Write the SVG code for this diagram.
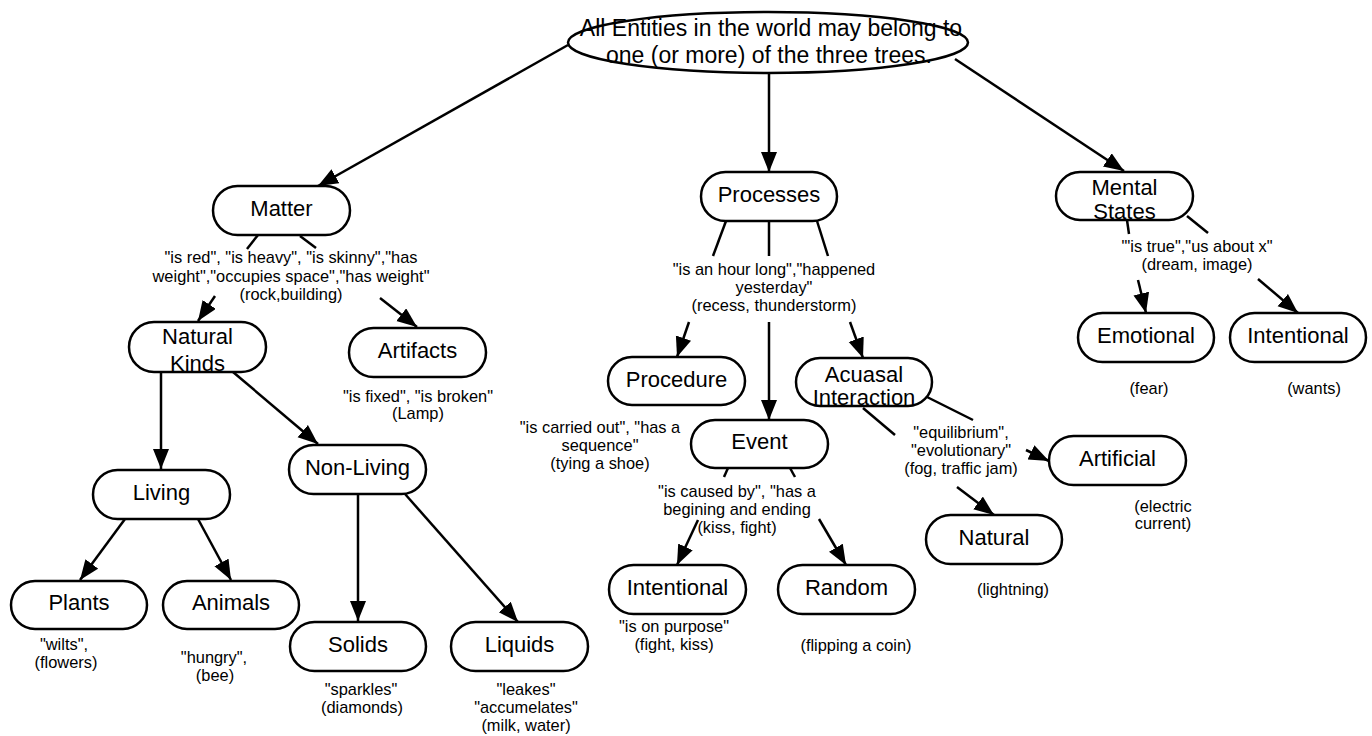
<svg xmlns="http://www.w3.org/2000/svg" width="1372" height="736" viewBox="0 0 1372 736">
<style>
.n{fill:#fff;stroke:#000;stroke-width:2.5}
.t{font-family:"Liberation Sans",Arial,sans-serif;font-size:22px;fill:#000;text-anchor:middle}
.r{font-size:23px}
.l{font-family:"Liberation Sans",Arial,sans-serif;font-size:16.4px;fill:#000;text-anchor:middle}
.c{stroke:#000;stroke-width:2.5;fill:none}
.a{marker-end:url(#ah)}
</style>
<defs>
<marker id="ah" markerUnits="userSpaceOnUse" markerWidth="22" markerHeight="18" refX="20" refY="8" orient="auto">
<path d="M0,0 L20,8 L0,16 z" fill="#000"/>
</marker>
</defs>
<rect width="1372" height="736" fill="#fff"/>
<g id="connectors">
<line class="c a" x1="568" y1="45" x2="318" y2="186"/>
<line class="c a" x1="769" y1="74" x2="769" y2="172"/>
<line class="c a" x1="955" y1="59" x2="1124" y2="171"/>
<line class="c" x1="258" y1="235" x2="247" y2="249"/>
<line class="c a" x1="215" y1="296" x2="198" y2="321"/>
<line class="c" x1="300" y1="236" x2="316" y2="248"/>
<line class="c a" x1="380" y1="298" x2="417" y2="327"/>
<line class="c a" x1="161" y1="372" x2="161" y2="469"/>
<line class="c a" x1="233" y1="372" x2="318" y2="444"/>
<line class="c a" x1="125" y1="519" x2="80" y2="580"/>
<line class="c a" x1="198" y1="519" x2="231" y2="580"/>
<line class="c a" x1="358" y1="494" x2="358" y2="621"/>
<line class="c a" x1="405" y1="494" x2="518" y2="622"/>
<line class="c" x1="726" y1="221" x2="713" y2="256"/>
<line class="c a" x1="689" y1="322" x2="677" y2="357"/>
<line class="c" x1="769" y1="221" x2="769" y2="256"/>
<line class="c a" x1="769" y1="322" x2="769" y2="420"/>
<line class="c" x1="817" y1="221" x2="828" y2="256"/>
<line class="c a" x1="850" y1="322" x2="863" y2="358"/>
<line class="c" x1="1127" y1="220" x2="1129" y2="234"/>
<line class="c a" x1="1138" y1="280" x2="1146" y2="313"/>
<line class="c" x1="1187" y1="216" x2="1208" y2="233"/>
<line class="c a" x1="1258" y1="279" x2="1298" y2="313"/>
<line class="c" x1="728" y1="468" x2="724" y2="477"/>
<line class="c a" x1="698" y1="520" x2="677" y2="565"/>
<line class="c" x1="790" y1="468" x2="795" y2="477"/>
<line class="c a" x1="819" y1="519" x2="846" y2="565"/>
<line class="c" x1="927" y1="397" x2="973" y2="420"/>
<line class="c a" x1="1026" y1="450" x2="1049" y2="461"/>
<line class="c" x1="863" y1="408" x2="895" y2="435"/>
<line class="c a" x1="957" y1="487" x2="994" y2="515"/>
</g>
<g id="root">
<ellipse class="n" cx="768" cy="42.5" rx="200" ry="30.5"/>
<text class="t r" x="771" y="36">All Entities in the world may belong to</text>
<text class="t r" x="769" y="63">one (or more) of the three trees.</text>
</g>
<g id="matter">
<rect class="n" x="213" y="186" width="137" height="49" rx="24.5"/>
<text class="t" x="281.5" y="216">Matter</text>
</g>
<g id="matter-label">
<text class="l" x="291" y="263">"is red", "is heavy", "is skinny","has</text>
<text class="l" x="291" y="281.5">weight","occupies space","has weight"</text>
<text class="l" x="291" y="300">(rock,building)</text>
</g>
<g id="natural-kinds">
<rect class="n" x="129" y="322" width="137" height="50" rx="25"/>
<text class="t" x="197.5" y="344">Natural</text>
<text class="t" x="197.5" y="371">Kinds</text>
</g>
<g id="artifacts">
<rect class="n" x="349" y="328" width="137" height="49" rx="24.5"/>
<text class="t" x="417.5" y="358">Artifacts</text>
<text class="l" x="418" y="402">"is fixed", "is broken"</text>
<text class="l" x="418" y="419">(Lamp)</text>
</g>
<g id="living">
<rect class="n" x="93" y="470" width="137" height="49" rx="24.5"/>
<text class="t" x="161.5" y="500">Living</text>
</g>
<g id="non-living">
<rect class="n" x="289" y="445" width="137" height="49" rx="24.5"/>
<text class="t" x="357.5" y="475">Non-Living</text>
</g>
<g id="plants">
<rect class="n" x="11" y="581" width="136" height="48" rx="24"/>
<text class="t" x="79" y="610">Plants</text>
<text class="l" x="64" y="650">"wilts",</text>
<text class="l" x="66" y="668">(flowers)</text>
</g>
<g id="animals">
<rect class="n" x="163" y="581" width="136" height="48" rx="24"/>
<text class="t" x="231" y="610">Animals</text>
<text class="l" x="214" y="663">"hungry",</text>
<text class="l" x="215" y="681">(bee)</text>
</g>
<g id="solids">
<rect class="n" x="290" y="622" width="136" height="49" rx="24.5"/>
<text class="t" x="358" y="652">Solids</text>
<text class="l" x="361" y="695">"sparkles"</text>
<text class="l" x="362" y="713">(diamonds)</text>
</g>
<g id="liquids">
<rect class="n" x="451" y="622" width="137" height="49" rx="24.5"/>
<text class="t" x="519.5" y="652">Liquids</text>
<text class="l" x="526" y="695">"leakes"</text>
<text class="l" x="526" y="713">"accumelates"</text>
<text class="l" x="526" y="731">(milk, water)</text>
</g>
<g id="processes">
<rect class="n" x="701" y="172" width="136" height="49" rx="24.5"/>
<text class="t" x="769" y="202">Processes</text>
</g>
<g id="processes-label">
<text class="l" x="774" y="275">"is an hour long","happened</text>
<text class="l" x="774" y="293">yesterday"</text>
<text class="l" x="774" y="311">(recess, thunderstorm)</text>
</g>
<g id="procedure">
<rect class="n" x="608" y="357" width="137" height="48" rx="24"/>
<text class="t" x="676.5" y="387">Procedure</text>
<text class="l" x="600" y="433">"is carried out", "has a</text>
<text class="l" x="600" y="451">sequence"</text>
<text class="l" x="600" y="469">(tying a shoe)</text>
</g>
<g id="event">
<rect class="n" x="691" y="420" width="137" height="48" rx="24"/>
<text class="t" x="759.5" y="449">Event</text>
</g>
<g id="event-label">
<text class="l" x="737" y="497">"is caused by", "has a</text>
<text class="l" x="737" y="515">begining and ending</text>
<text class="l" x="737" y="533">(kiss, fight)</text>
</g>
<g id="acausal">
<rect class="n" x="796" y="358" width="136" height="48" rx="24"/>
<text class="t" x="864" y="382">Acuasal</text>
<text class="t" x="864" y="405">Interaction</text>
</g>
<g id="acausal-label">
<text class="l" x="961" y="438">"equilibrium",</text>
<text class="l" x="961" y="456">"evolutionary"</text>
<text class="l" x="961" y="474">(fog, traffic jam)</text>
</g>
<g id="intentional-event">
<rect class="n" x="609" y="565" width="137" height="49" rx="24.5"/>
<text class="t" x="677.5" y="595">Intentional</text>
<text class="l" x="674" y="632">"is on purpose"</text>
<text class="l" x="674" y="650">(fight, kiss)</text>
</g>
<g id="random">
<rect class="n" x="778" y="565" width="137" height="49" rx="24.5"/>
<text class="t" x="846.5" y="595">Random</text>
<text class="l" x="856" y="651">(flipping a coin)</text>
</g>
<g id="artificial">
<rect class="n" x="1049" y="436" width="137" height="49" rx="24.5"/>
<text class="t" x="1117.5" y="466">Artificial</text>
<text class="l" x="1163" y="512">(electric</text>
<text class="l" x="1163" y="529">current)</text>
</g>
<g id="natural">
<rect class="n" x="926" y="515" width="136" height="49" rx="24.5"/>
<text class="t" x="994" y="545">Natural</text>
<text class="l" x="1013" y="595">(lightning)</text>
</g>
<g id="mental-states">
<rect class="n" x="1056" y="172" width="137" height="48" rx="24"/>
<text class="t" x="1124.5" y="195">Mental</text>
<text class="t" x="1124.5" y="219">States</text>
</g>
<g id="mental-label">
<text class="l" x="1197" y="252">"'is true","us about x"</text>
<text class="l" x="1197" y="270">(dream, image)</text>
</g>
<g id="emotional">
<rect class="n" x="1078" y="313" width="136" height="49" rx="24.5"/>
<text class="t" x="1146" y="343">Emotional</text>
<text class="l" x="1149" y="394">(fear)</text>
</g>
<g id="intentional-mental">
<rect class="n" x="1230" y="313" width="136" height="49" rx="24.5"/>
<text class="t" x="1298" y="343">Intentional</text>
<text class="l" x="1314" y="394">(wants)</text>
</g>
</svg>
